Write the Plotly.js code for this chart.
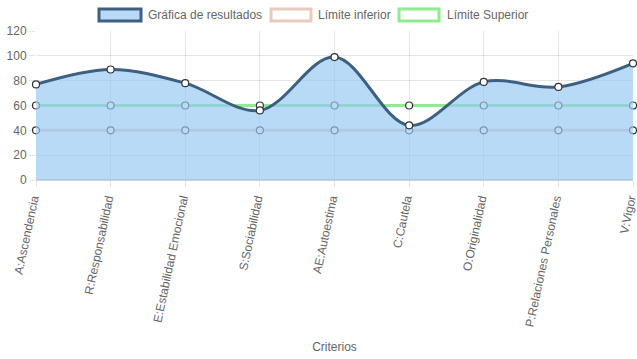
<!DOCTYPE html>
<html>
<head>
<meta charset="utf-8">
<script src="https://cdn.plot.ly/plotly-3.0.1.min.js"></script>
<style>html,body{margin:0;padding:0;background:#fff;}#chart{width:637px;height:359px;}</style>
</head>
<body>
<div id="chart"></div>
<script>
const categories = ["A:Ascendencia","R:Responsabilidad","E:Estabilidad Emocional","S:Sociabilidad","AE:Autoestima","C:Cautela","O:Originalidad","P:Relaciones Personales","V:Vigor"];
const resultados = [77, 89, 78, 56, 99, 44, 79, 75, 94];
const limiteInferior = [40, 40, 40, 40, 40, 40, 40, 40, 40];
const limiteSuperior = [60, 60, 60, 60, 60, 60, 60, 60, 60];
const seriesNames = ["Gráfica de resultados", "Límite inferior", "Límite Superior"];
const yTicks = [0, 20, 40, 60, 80, 100, 120];

const blueLine = "rgb(62,96,128)";
const blueFill = "rgba(150,200,243,0.68)";
const pink = "rgb(232,203,190)";
const green = "rgb(144,234,144)";
const marker = {size: 7, color: "#fff", line: {color: "#333", width: 1.2}};

const traces = [
  {x: categories, y: limiteInferior, name: seriesNames[1], type: "scatter", mode: "lines+markers",
   line: {color: pink, width: 3}, marker: marker, cliponaxis: false, showlegend: false, hoverinfo: "skip"},
  {x: categories, y: limiteSuperior, name: seriesNames[2], type: "scatter", mode: "lines+markers",
   line: {color: green, width: 3}, marker: marker, cliponaxis: false, showlegend: false, hoverinfo: "skip"},
  {x: categories, y: resultados, name: seriesNames[0], type: "scatter", mode: "lines+markers",
   line: {color: blueLine, width: 3, shape: "spline", smoothing: 1}, fill: "tozeroy", fillcolor: blueFill,
   marker: marker, cliponaxis: false, showlegend: false, hoverinfo: "skip"}
];

const font = {family: "Liberation Sans, Arial, sans-serif", size: 12, color: "#666"};
const legendItems = [
  {x0: 99, x1: 141, fill: blueFill, border: blueLine, tx: 146, label: seriesNames[0]},
  {x0: 271, x1: 311, fill: "#fff", border: pink, tx: 316, label: seriesNames[1]},
  {x0: 399, x1: 439, fill: "#fff", border: green, tx: 445, label: seriesNames[2]}
];
const W = 637, H = 359;
const shapes = legendItems.map(it => ({type: "rect", xref: "paper", yref: "paper",
  x0: (it.x0 - 36) / (633 - 36), x1: (it.x1 - 36) / (633 - 36),
  y0: (180 - 21) / (180 - 31), y1: (180 - 9) / (180 - 31),
  fillcolor: it.fill, line: {color: it.border, width: 3}, layer: "above"}));
const annotations = legendItems.map(it => ({xref: "paper", yref: "paper",
  x: (it.tx - 36) / (633 - 36), y: (180 - 15) / (180 - 31), xanchor: "left", yanchor: "middle",
  text: it.label, showarrow: false, font: font}));

const layout = {
  width: W, height: H,
  margin: {l: 36, r: 4, t: 31, b: 179},
  paper_bgcolor: "#fff", plot_bgcolor: "#fff",
  font: font,
  showlegend: false,
  xaxis: {type: "category", range: [0, 8], tickangle: -78, tickfont: font,
    ticklabelshift: -3,
    showgrid: true, gridcolor: "rgba(0,0,0,0.1)", gridwidth: 1,
    ticks: "outside", ticklen: 6, tickcolor: "rgba(0,0,0,0.1)",
    showline: false, zeroline: false,
    title: {text: "Criterios", font: font, standoff: 15}},
  yaxis: {range: [0, 120], tickvals: yTicks, ticktext: yTicks.map(String), tickfont: font,
    showgrid: true, gridcolor: "rgba(0,0,0,0.1)", gridwidth: 1,
    ticks: "outside", ticklen: 6, tickcolor: "rgba(0,0,0,0.1)",
    zeroline: true, zerolinecolor: "rgba(0,0,0,0.18)", zerolinewidth: 2,
    showline: false},
  shapes: shapes,
  annotations: annotations
};

Plotly.newPlot("chart", traces, layout, {displayModeBar: false, staticPlot: true});
</script>
</body>
</html>
